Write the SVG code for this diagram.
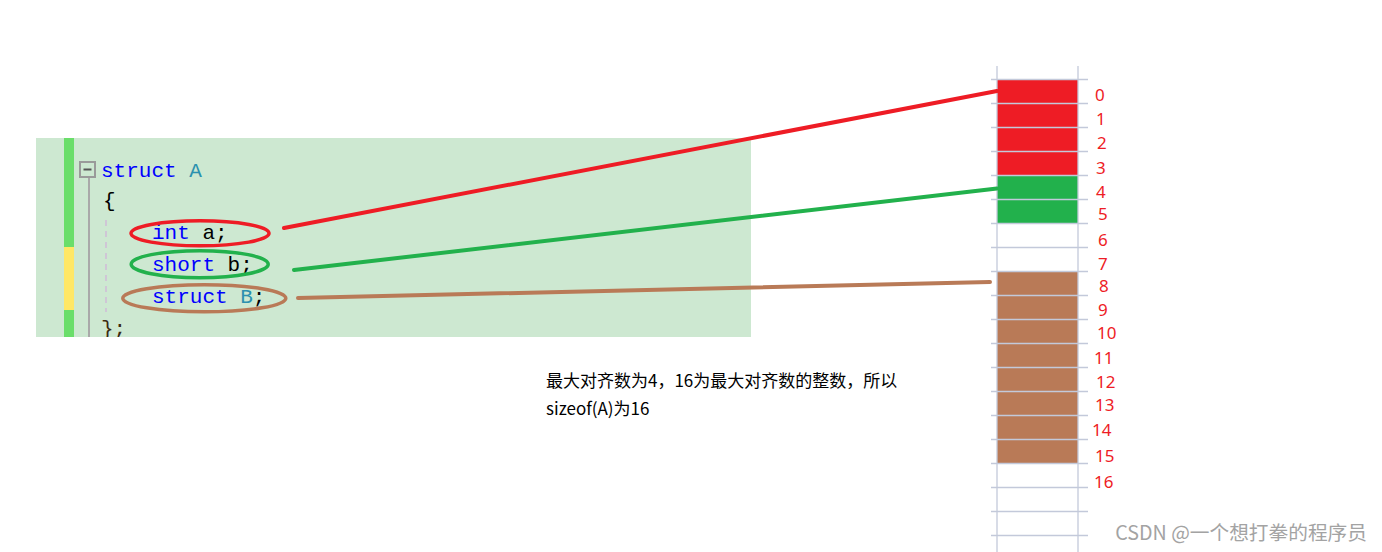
<svg xmlns="http://www.w3.org/2000/svg" width="1382" height="552" viewBox="0 0 1382 552">
<style>
.code{font-family:"Liberation Mono","DejaVu Sans Mono",monospace;font-size:21px}
.kw{fill:#0000ff}.ty{fill:#2b91af}.pl{fill:#000000}
.grid{stroke:#c3c9da;stroke-width:1.3}
.num{font-family:"Noto Sans","Liberation Sans",sans-serif;font-size:17px;fill:#ee1c25}
.note{font-family:"Noto Sans CJK SC","Noto Sans",sans-serif;font-size:17px;fill:#000}
.conn{fill:none;stroke-width:4;stroke-linecap:round}
</style>
<defs><clipPath id="pc"><rect x="36" y="138" width="715" height="199"/></clipPath></defs>
<rect width="1382" height="552" fill="#ffffff"/>
<g id="code-panel" clip-path="url(#pc)">
<rect x="36" y="138" width="715" height="199" fill="#cde8d1"/>
<rect x="64" y="138" width="10" height="109" fill="#6ade6a"/>
<rect x="64" y="247" width="10" height="63" fill="#ffe766"/>
<rect x="64" y="310" width="10" height="27" fill="#6ade6a"/>
<rect x="80" y="162" width="15" height="15" fill="none" stroke="#9a9a9a" stroke-width="2"/>
<line x1="83.5" y1="169.5" x2="91.5" y2="169.5" stroke="#555" stroke-width="2"/>
<line x1="89" y1="178" x2="89" y2="337" stroke="#a9a9a9" stroke-width="2"/>
<line x1="106" y1="220" x2="106" y2="312" stroke="#cfc6d6" stroke-width="2" stroke-dasharray="6,5"/>
<text class="code" x="101" y="177"><tspan class="kw">struct</tspan><tspan class="ty"> A</tspan></text>
<text class="code pl" x="103" y="207">{</text>
<text class="code" x="152" y="239"><tspan class="kw">int</tspan><tspan class="pl"> a;</tspan></text>
<text class="code" x="152" y="271"><tspan class="kw">short</tspan><tspan class="pl"> b;</tspan></text>
<text class="code" x="152" y="303"><tspan class="kw">struct</tspan><tspan class="ty"> B</tspan><tspan class="pl">;</tspan></text>
<text class="code" x="101" y="335" fill="#3a2a10">};</text>
</g>
<g id="ellipses">
<ellipse cx="200" cy="233.3" rx="69" ry="12.5" fill="none" stroke="#ee1c25" stroke-width="3.5"/>
<ellipse cx="199.7" cy="264.2" rx="68.5" ry="13.5" fill="none" stroke="#22b14c" stroke-width="3.5"/>
<ellipse cx="204.3" cy="298.3" rx="81.5" ry="13.5" fill="none" stroke="#b97a57" stroke-width="3.5"/>
</g>
<g id="memory">
<rect x="997" y="79.5" width="81" height="96" fill="#ee1c25"/>
<rect x="997" y="175.5" width="81" height="48" fill="#22b14c"/>
<rect x="997" y="271.5" width="81" height="192" fill="#b97a57"/>
<line class="grid" x1="997" y1="66" x2="997" y2="552"/>
<line class="grid" x1="1078" y1="66" x2="1078" y2="552"/>
<g class="grid">
<line x1="991" y1="79.5" x2="1088" y2="79.5"/><line x1="991" y1="103.5" x2="1088" y2="103.5"/>
<line x1="991" y1="127.5" x2="1088" y2="127.5"/><line x1="991" y1="151.5" x2="1088" y2="151.5"/>
<line x1="991" y1="175.5" x2="1088" y2="175.5"/><line x1="991" y1="199.5" x2="1088" y2="199.5"/>
<line x1="991" y1="223.5" x2="1088" y2="223.5"/><line x1="991" y1="247.5" x2="1088" y2="247.5"/>
<line x1="991" y1="271.5" x2="1088" y2="271.5"/><line x1="991" y1="295.5" x2="1088" y2="295.5"/>
<line x1="991" y1="319.5" x2="1088" y2="319.5"/><line x1="991" y1="343.5" x2="1088" y2="343.5"/>
<line x1="991" y1="367.5" x2="1088" y2="367.5"/><line x1="991" y1="391.5" x2="1088" y2="391.5"/>
<line x1="991" y1="415.5" x2="1088" y2="415.5"/><line x1="991" y1="439.5" x2="1088" y2="439.5"/>
<line x1="991" y1="463.5" x2="1088" y2="463.5"/><line x1="991" y1="487.5" x2="1088" y2="487.5"/>
<line x1="991" y1="511.5" x2="1088" y2="511.5"/><line x1="991" y1="535.5" x2="1088" y2="535.5"/>
</g>
</g>
<g id="labels">
<text class="num" x="1095" y="101">0</text>
<text class="num" x="1096" y="125">1</text>
<text class="num" x="1097" y="149">2</text>
<text class="num" x="1096" y="174">3</text>
<text class="num" x="1096" y="198">4</text>
<text class="num" x="1098" y="220">5</text>
<text class="num" x="1098" y="246">6</text>
<text class="num" x="1098" y="270">7</text>
<text class="num" x="1099" y="292">8</text>
<text class="num" x="1098" y="316">9</text>
<text class="num" x="1097" y="339">10</text>
<text class="num" x="1094" y="364">11</text>
<text class="num" x="1096" y="388">12</text>
<text class="num" x="1095" y="411">13</text>
<text class="num" x="1092" y="436">14</text>
<text class="num" x="1095" y="462">15</text>
<text class="num" x="1094" y="488">16</text>
</g>
<g id="connectors">
<line class="conn" x1="284" y1="228" x2="997" y2="91" stroke="#ee1c25"/>
<line class="conn" x1="294" y1="270" x2="997" y2="188.5" stroke="#22b14c"/>
<line class="conn" x1="298" y1="298" x2="990" y2="282" stroke="#b97a57"/>
</g>
<g id="note">
<text class="note" x="546" y="387">最大对齐数为4，16为最大对齐数的整数，所以</text>
<text class="note" x="546" y="415">sizeof(A)为16</text>
</g>
<text x="1367" y="540" text-anchor="end" font-family="Noto Sans CJK SC, Liberation Sans, sans-serif" font-size="19.7" fill="#a3a3a3">CSDN @一个想打拳的程序员</text>
</svg>
